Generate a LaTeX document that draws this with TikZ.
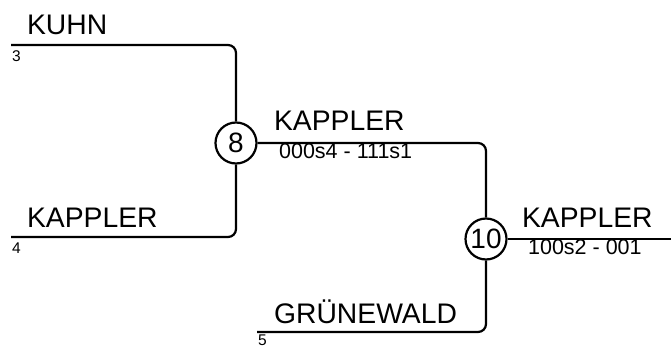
\documentclass[tikz,border=0pt]{standalone}
\usepackage{fontspec}
\setmainfont{Liberation Sans}
\usetikzlibrary{positioning}

\begin{document}
\begin{tikzpicture}[
        x=1pt, y=-1pt,
        line width=2.2pt,
        player/.style={inner sep=0pt, anchor=base west, font=\fontsize{28.3}{28.3}\selectfont},
        result/.style={inner sep=0pt, anchor=base west, font=\fontsize{21.5}{21.5}\selectfont},
        seed/.style={inner sep=0pt, anchor=base west, font=\fontsize{15.5}{15.5}\selectfont},
        match/.style={circle, draw, fill=white, inner sep=0pt, minimum size=41pt, font=\fontsize{28}{28}\selectfont}
    ]
      \useasboundingbox (0,0) rectangle (671,348);

      % first round
      \coordinate (l1) at (11,45);
      \coordinate (l2) at (11,237);
      \coordinate (l3) at (257,332);
      \node[player] (kuhn) at (26,34) {KUHN};
      \node[seed] (s3) at (11,61) {3};
      \node[player] (kap1) at (26,227) {KAPPLER};
      \node[seed] (s4) at (11,253) {4};
      \node[player] (gru) at (273,323) {GRÜNEWALD};
      \node[seed] (s5) at (257,345.5) {5};

      % matches
      \node[match] (m8) at (236,143) {8};
      \node[match] (m10) at (486,239) {10};
      \coordinate (out) at (671,239);

      \node[player] (kap2) at (273,130) {KAPPLER};
      \node[result] (r8) at (278,158) {000s4 - 111s1};
      \node[player] (kap3) at (521,227) {KAPPLER};
      \node[result] (r10) at (527,254) {100s2 - 001};

      \draw[rounded corners=8pt] (l1) -| (m8);
      \draw[rounded corners=8pt] (l2) -| (m8);
      \draw[rounded corners=8pt] (m8) -| (m10);
      \draw[rounded corners=8pt] (l3) -| (m10);
      \draw (m10) -- (out);
    \end{tikzpicture}
\end{document}
